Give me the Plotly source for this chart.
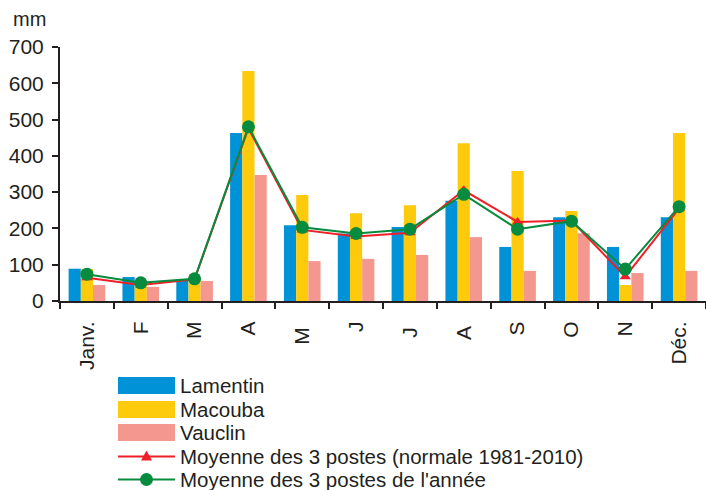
import plotly.graph_objects as go

months = ["Janv.", "F", "M", "A", "M ", "J", "J ", "A ", "S", "O", "N", "Déc."]
lamentin = [89, 66, 60, 463, 209, 186, 204, 276, 149, 231, 149, 231]
macouba = [88, 45, 66, 634, 292, 242, 264, 435, 358, 248, 44, 463]
vauclin = [44, 39, 55, 347, 110, 116, 127, 176, 83, 187, 77, 83]
normale = [64, 44, 60, 476, 196, 178, 188, 305, 218, 222, 67, 255]
annee = [74, 50, 61, 480, 203, 186, 198, 294, 198, 220, 88, 260]

series_names = ["Lamentin", "Macouba", "Vauclin",
                "Moyenne des 3 postes (normale 1981-2010)",
                "Moyenne des 3 postes de l'année"]
yticks = [0, 100, 200, 300, 400, 500, 600, 700]

BLUE = "#0092D7"
YELLOW = "#FDCA0C"
PINK = "#F4978F"
RED = "#EE2027"
GREEN = "#078B3E"
TXT = "#231F20"
FONT = "Liberation Sans, Arial, sans-serif"

W, H = 706, 490
L, R, T, B = 60, 0, 47, 189
PW = W - L - R
PH = H - T - B

fig = go.Figure()
fig.add_trace(go.Bar(x=months, y=lamentin, name=series_names[0], marker_color=BLUE, marker_line_width=0))
fig.add_trace(go.Bar(x=months, y=macouba, name=series_names[1], marker_color=YELLOW, marker_line_width=0))
fig.add_trace(go.Bar(x=months, y=vauclin, name=series_names[2], marker_color=PINK, marker_line_width=0))
fig.add_trace(go.Scatter(x=months, y=normale, name=series_names[3], mode="lines+markers",
                         line=dict(color=RED, width=2),
                         marker=dict(symbol="triangle-up", size=10, color=RED)))
fig.add_trace(go.Scatter(x=months, y=annee, name=series_names[4], mode="lines+markers",
                         line=dict(color=GREEN, width=2),
                         marker=dict(symbol="circle", size=13, color=GREEN)))


def px_x(px):
    return (px - L) / PW


def px_y(py):
    return (H - B - py) / PH


shapes = []
annotations = []
# Manual legend
rows_y = [385.5, 409.5, 432.5, 456.5, 479.5]
sw_x0, sw_x1 = 118, 175
bar_cols = [BLUE, YELLOW, PINK]
for i in range(3):
    cy = rows_y[i]
    shapes.append(dict(type="rect", xref="paper", yref="paper",
                       x0=px_x(sw_x0), x1=px_x(sw_x1), y0=px_y(cy + 8.5), y1=px_y(cy - 8.5),
                       fillcolor=bar_cols[i], line_width=0))
for i, col in [(3, RED), (4, GREEN)]:
    cy = rows_y[i]
    shapes.append(dict(type="line", xref="paper", yref="paper",
                       x0=px_x(sw_x0), x1=px_x(sw_x1), y0=px_y(cy), y1=px_y(cy),
                       line=dict(color=col, width=2)))
# triangle marker
cx, cy = 146.5, rows_y[3]
shapes.append(dict(type="path", xref="paper", yref="paper",
                   path=f"M {px_x(cx-5.5)} {px_y(cy+4)} L {px_x(cx+5.5)} {px_y(cy+4)} L {px_x(cx)} {px_y(cy-6)} Z",
                   fillcolor=RED, line_width=0))
# circle marker
cx, cy = 146.5, rows_y[4]
shapes.append(dict(type="circle", xref="paper", yref="paper",
                   x0=px_x(cx - 6.5), x1=px_x(cx + 6.5), y0=px_y(cy + 6.5), y1=px_y(cy - 6.5),
                   fillcolor=GREEN, line_width=0))
for i, name in enumerate(series_names):
    annotations.append(dict(xref="paper", yref="paper", x=px_x(178), y=px_y(rows_y[i]),
                            text=name, showarrow=False, xanchor="left", yanchor="middle",
                            font=dict(size=20.5, color=TXT, family=FONT)))

annotations.append(dict(xref="paper", yref="paper", x=px_x(29), y=px_y(19),
                        text="mm", showarrow=False, xanchor="center", yanchor="middle",
                        font=dict(size=20, color=TXT, family=FONT)))

fig.update_layout(
    width=W, height=H,
    margin=dict(l=L, r=R, t=T, b=B, pad=0),
    paper_bgcolor="white", plot_bgcolor="white",
    barmode="group", bargap=0.32, bargroupgap=0,
    showlegend=False,
    font=dict(family=FONT, color=TXT, size=21),
    shapes=shapes, annotations=annotations,
)
fig.update_xaxes(
    type="category", range=[-0.5, 11.5],
    showline=True, linecolor=TXT, linewidth=2,
    ticks="outside", ticklen=6, tickwidth=2, tickcolor=TXT,
    tickson="boundaries", tickangle=-90,
    tickfont=dict(size=21, color=TXT, family=FONT),
    ticklabelstandoff=10,
    showgrid=False, zeroline=False,
)
fig.update_yaxes(
    range=[0, 700], tickvals=yticks,
    showline=True, linecolor=TXT, linewidth=2,
    ticks="outside", ticklen=6, tickwidth=2, tickcolor=TXT,
    tickfont=dict(size=21, color=TXT, family=FONT),
    ticklabelstandoff=4,
    showgrid=False, zeroline=False,
)

fig.write_html("out.html", config={"displayModeBar": False},
               post_script="document.body.style.margin='0';document.body.style.overflow='hidden';")
